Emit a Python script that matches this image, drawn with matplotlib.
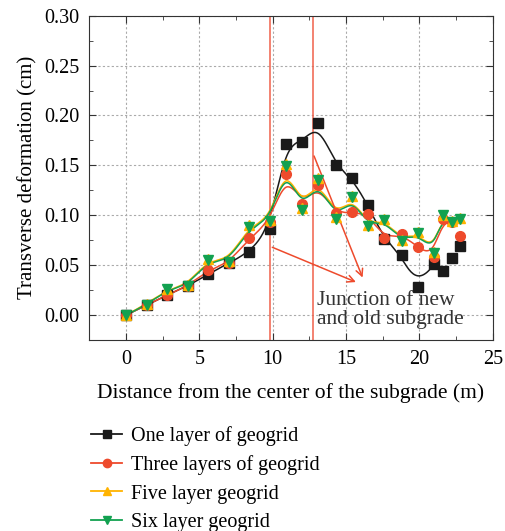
"""Transverse deformation vs. distance from subgrade centre, four geogrid layouts."""

import matplotlib

matplotlib.use("Agg")
import matplotlib.pyplot as plt
import numpy as np
from matplotlib.ticker import MultipleLocator

distance = [0.0, 1.4, 2.8, 4.2, 5.6, 7.0, 8.4, 9.8, 10.9, 12.0, 13.1,
            14.3, 15.4, 16.5, 17.6, 18.8, 19.9, 21.0, 21.6, 22.2, 22.8]
one_layer = [0.0, 0.010, 0.020, 0.029, 0.041, 0.052, 0.063, 0.086, 0.171, 0.173, 0.192,
             0.150, 0.137, 0.110, 0.076, 0.060, 0.028, 0.051, 0.044, 0.057, 0.069]
three_layers = [0.0, 0.010, 0.020, 0.029, 0.045, 0.052, 0.077, 0.093, 0.141, 0.111, 0.130,
                0.102, 0.103, 0.101, 0.077, 0.081, 0.068, 0.058, 0.096, 0.093, 0.079]
five_layers = [0.0, 0.011, 0.026, 0.030, 0.056, 0.054, 0.090, 0.095, 0.151, 0.107, 0.137,
               0.098, 0.119, 0.090, 0.096, 0.075, 0.083, 0.063, 0.100, 0.094, 0.097]
six_layers = [0.0, 0.010, 0.026, 0.029, 0.055, 0.053, 0.088, 0.094, 0.149, 0.105, 0.135,
              0.096, 0.118, 0.089, 0.095, 0.074, 0.082, 0.062, 0.100, 0.093, 0.096]
labels = ["One layer of geogrid", "Three layers of geogrid",
          "Five layer geogrid", "Six layer geogrid"]
# number of points the smoothed curve runs through (Origin B-spline stops early)
curve_points = [18, 20, 20, 20]
junctions = [9.8, 12.75]

RED = "#ee4a2c"
colors = ["#1a1a1a", RED, "#ffb300", "#12a150"]
markers = ["s", "o", "^", "v"]


def _bspline(xs, ys, n=400, k=3):
    m = len(xs)
    knots = np.concatenate([np.zeros(k), np.linspace(0, 1, m - k + 1), np.ones(k)])
    t = np.linspace(0, 1, n)
    b = np.zeros((n, len(knots) - 1))
    for i in range(len(knots) - 1):
        if knots[i] < knots[i + 1]:
            b[:, i] = (t >= knots[i]) & (t < knots[i + 1])
    last = np.nonzero(knots[:-1] < knots[1:])[0].max()
    b[t >= knots[-1], last] = 1.0
    for d in range(1, k + 1):
        nb = np.zeros((n, len(knots) - 1 - d))
        for i in range(nb.shape[1]):
            left = knots[i + d] - knots[i]
            right = knots[i + d + 1] - knots[i + 1]
            if left > 0:
                nb[:, i] += (t - knots[i]) / left * b[:, i]
            if right > 0:
                nb[:, i] += (knots[i + d + 1] - t) / right * b[:, i + 1]
        b = nb
    return b @ np.asarray(xs), b @ np.asarray(ys)


plt.rcParams["font.family"] = ["Liberation Serif", "DejaVu Serif"]

fig = plt.figure(figsize=(5.06, 5.31), dpi=100)
ax = fig.add_axes([0.1765, 0.3597, 0.7972, 0.6107])

series = [one_layer, three_layers, five_layers, six_layers]
for ys, lab, col, mk, cnt in zip(series, labels, colors, markers, curve_points):
    cx, cy = _bspline(distance[:cnt], ys[:cnt])
    ax.plot(cx, cy, color=col, lw=1.1, zorder=3)
    ax.plot(distance, ys, ls="none", marker=mk, ms=7, color=col, zorder=4)
    ax.plot([], [], color=col, lw=1.3, marker=mk, ms=6, label=lab)

for xj in junctions:
    ax.axvline(xj, color="#f0604a", lw=1.1, zorder=2)

arrow = dict(arrowstyle="->,head_length=0.5,head_width=0.25", color=RED, lw=1.1)
ax.annotate("", xy=(15.85, 0.032), xytext=(9.8, 0.069), arrowprops=arrow)
ax.annotate("", xy=(16.2, 0.035), xytext=(12.75, 0.162), arrowprops=arrow)
ax.text(13.0, 0.0245, "Junction of new\nand old subgrade", fontsize=15.5,
        color="#333333", va="top", ha="left", linespacing=1.05)

ax.set_xlim(-2.5, 25)
ax.set_ylim(-0.025, 0.30)
ax.xaxis.set_major_locator(MultipleLocator(5))
ax.xaxis.set_minor_locator(MultipleLocator(2.5))
ax.yaxis.set_major_locator(MultipleLocator(0.05))
ax.yaxis.set_minor_locator(MultipleLocator(0.025))
ax.yaxis.set_major_formatter(matplotlib.ticker.FormatStrFormatter("%.2f"))
ax.tick_params(which="both", direction="in", top=True, right=True, labelsize=14.5,
               color="#333333", pad=7)
ax.tick_params(which="major", length=5)
ax.tick_params(which="minor", length=3)
ax.grid(True, which="major", ls=(0, (2, 2)), color="#aaaaaa", lw=0.8)
for sp in ax.spines.values():
    sp.set_color("#333333")

ax.set_xlabel("Distance from the center of the subgrade (m)", fontsize=15.5, labelpad=10)
ax.set_ylabel("Transverse deformation (cm)", fontsize=15, labelpad=5)

fig.legend(loc="upper left", bbox_to_anchor=(0.164, 0.212), frameon=False,
           fontsize=14.5, handlelength=1.55, handletextpad=0.45, labelspacing=0.45,
           borderaxespad=0)

fig.savefig("out.png", dpi=100)
